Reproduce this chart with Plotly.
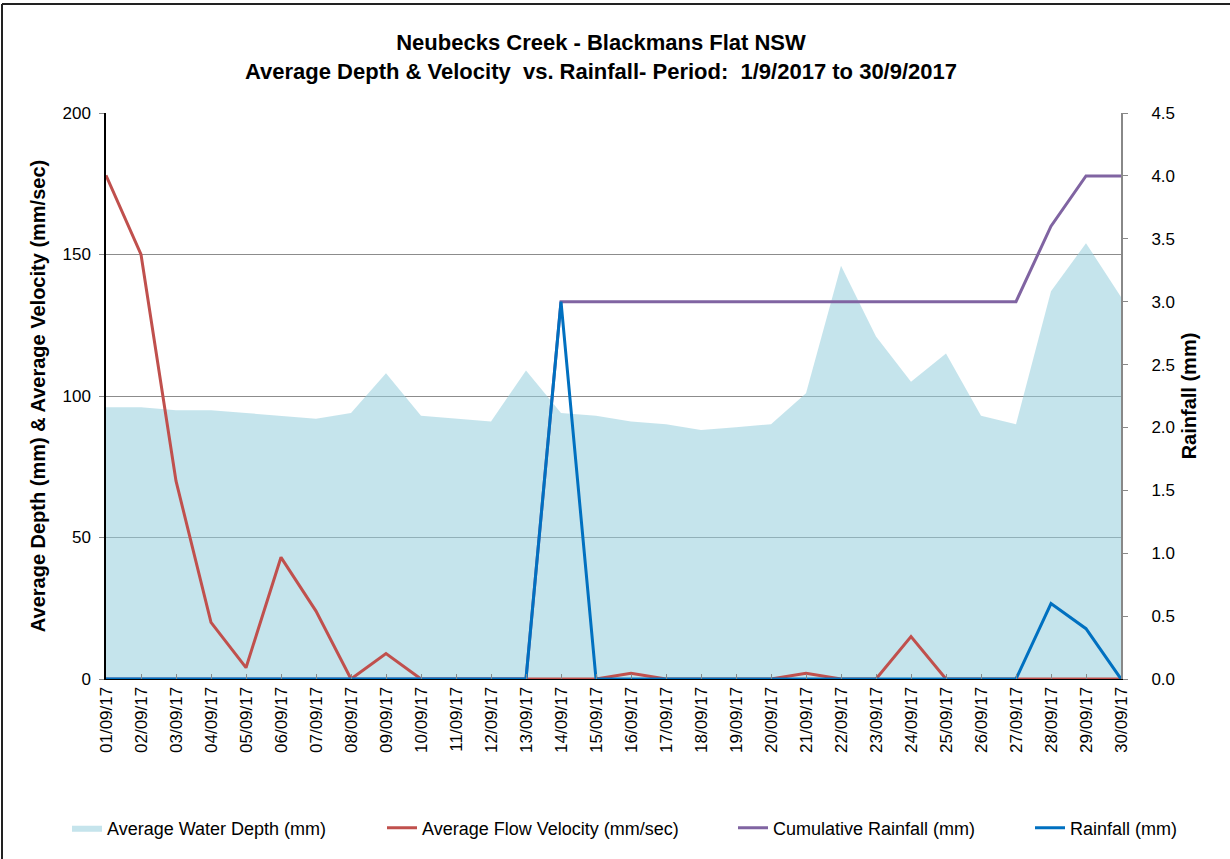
import plotly.graph_objects as go

dates = [f"{d:02d}/09/17" for d in range(1, 31)]

depth_mm = [96, 96, 95, 95, 94, 93, 92, 94, 108, 93,
            92, 91, 109, 94, 93, 91, 90, 88, 89, 90,
            101, 146, 121, 105, 115, 93, 90, 137, 154, 135]

velocity_mm_s = [178, 150, 70, 20, 4, 43, 24, 0, 9, 0,
                 0, 0, 0, 0, 0, 2, 0, 0, 0, 0,
                 2, 0, 0, 15, 0, 0, 0, 0, 0, 0]

rainfall_mm = [0, 0, 0, 0, 0, 0, 0, 0, 0, 0,
               0, 0, 0, 3.0, 0, 0, 0, 0, 0, 0,
               0, 0, 0, 0, 0, 0, 0, 0.6, 0.4, 0]

cumulative_mm = [0, 0, 0, 0, 0, 0, 0, 0, 0, 0,
                 0, 0, 0, 3.0, 3.0, 3.0, 3.0, 3.0, 3.0, 3.0,
                 3.0, 3.0, 3.0, 3.0, 3.0, 3.0, 3.0, 3.6, 4.0, 4.0]

FONT = "Liberation Sans, Arial, sans-serif"
FILL = "rgba(150,205,220,0.55)"

fig = go.Figure()

fig.add_trace(go.Scatter(
    x=dates, y=depth_mm, name="Average Water Depth (mm)",
    mode="lines", line=dict(width=0, color=FILL),
    fill="tozeroy", fillcolor=FILL,
    showlegend=True, legend="legend",
))
fig.add_trace(go.Scatter(
    x=dates, y=velocity_mm_s, name="Average Flow Velocity (mm/sec)",
    mode="lines", line=dict(width=3, color="#C0504D"),
    showlegend=True, legend="legend2",
))
fig.add_trace(go.Scatter(
    x=dates, y=cumulative_mm, name="Cumulative Rainfall (mm)",
    mode="lines", line=dict(width=3, color="#8064A2"), yaxis="y2",
    showlegend=True, legend="legend3",
))
fig.add_trace(go.Scatter(
    x=dates, y=rainfall_mm, name="Rainfall (mm)",
    mode="lines", line=dict(width=3, color="#0070C0"), yaxis="y2",
    showlegend=True, legend="legend4",
))

W, H = 1230, 859
ML, MR, MT, MB = 106, 109, 113, 180
PW, PH = W - ML - MR, H - MT - MB


def px_x(x):
    return (x - ML) / PW


def px_y(y):
    return (H - MB - y) / PH


legend_style = dict(orientation="h", xanchor="left", yanchor="middle",
                    font=dict(family=FONT, size=18, color="black"),
                    bgcolor="rgba(0,0,0,0)", itemwidth=30)

fig.update_layout(
    width=W, height=H,
    margin=dict(l=ML, r=MR, t=MT, b=MB),
    paper_bgcolor="white", plot_bgcolor="white",
    font=dict(family=FONT, color="black"),
    showlegend=True,
    title=dict(
        text="<b>Neubecks Creek - Blackmans Flat NSW<br>"
             "Average Depth &amp; Velocity  vs. Rainfall- Period:  1/9/2017 to 30/9/2017</b>",
        x=px_x(601), xref="paper", xanchor="center",
        y=1 - 50 / H, yanchor="middle",
        font=dict(family=FONT, size=22, color="black"),
    ),
    xaxis=dict(
        type="category", range=[0, 29],
        tickangle=-90, tickfont=dict(family=FONT, size=17, color="black"),
        ticks="inside", ticklen=5, tickcolor="#888888",
        showline=True, linecolor="black", linewidth=1,
        showgrid=False, zeroline=False,
    ),
    yaxis=dict(
        range=[0, 200], dtick=50, tickfont=dict(family=FONT, size=17, color="black"),
        ticks="outside", ticklen=5, tickcolor="#888888", ticklabelstandoff=5,
        showline=True, linecolor="black", linewidth=1.5,
        showgrid=True, gridcolor="#8c8c8c", gridwidth=1, zeroline=False,
        title=dict(text="<b>Average Depth (mm) &amp; Average Velocity (mm/sec)</b>",
                   font=dict(family=FONT, size=20, color="black"), standoff=11),
    ),
    yaxis2=dict(
        overlaying="y", side="right", range=[0, 4.5], dtick=0.5, tickformat=".1f",
        tickfont=dict(family=FONT, size=17, color="black"),
        ticks="outside", ticklen=5, tickcolor="#888888", ticklabelstandoff=20,
        showline=True, linecolor="#888888", linewidth=2,
        showgrid=False, zeroline=False,
        title=dict(text="<b>Rainfall (mm)</b>",
                   font=dict(family=FONT, size=20, color="black"), standoff=8),
    ),
    legend=dict(x=px_x(67), y=px_y(828), **legend_style),
    legend2=dict(x=px_x(382), y=px_y(828), **legend_style),
    legend3=dict(x=px_x(733), y=px_y(828), **legend_style),
    legend4=dict(x=px_x(1030), y=px_y(828), **legend_style),
    shapes=[
        dict(type="line", xref="paper", yref="paper",
             x0=px_x(2), x1=px_x(2), y0=px_y(4), y1=px_y(H + 5),
             line=dict(color="#222222", width=2)),
        dict(type="line", xref="paper", yref="paper",
             x0=px_x(2), x1=px_x(W + 5), y0=px_y(4), y1=px_y(4),
             line=dict(color="#222222", width=2)),
    ],
)

fig.write_html("out.html")
